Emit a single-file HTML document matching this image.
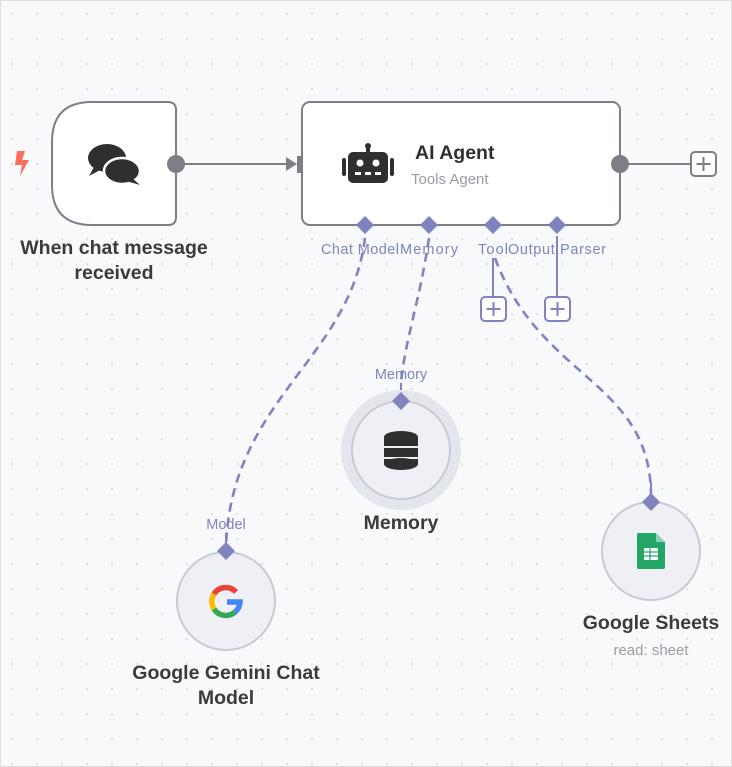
<!DOCTYPE html>
<html><head><meta charset="utf-8"><style>
html,body{margin:0;padding:0;background:#f8f9fb;}
svg{display:block;}
text{font-family:"Liberation Sans","DejaVu Sans",sans-serif;}
</style></head><body>
<svg width="732" height="767" viewBox="0 0 732 767" xmlns="http://www.w3.org/2000/svg">
<defs>
<pattern id="dots" x="0" y="0" width="25" height="25" patternUnits="userSpaceOnUse">
<circle cx="12" cy="14" r="0.9" fill="#c9ccd4"/>
</pattern>
</defs>
<rect width="732" height="767" fill="#f8f9fb"/>
<rect width="732" height="767" fill="url(#dots)"/>
<rect x="0.5" y="0.5" width="731" height="766" fill="none" stroke="#dcdee4"/>

<path d="M17 151 L25 151 L22 160 L29 160 L20 176 L22 165 L15 165 Z" fill="#ff6d5a"/>

<path d="M92 102 L168 102 Q176 102 176 110 L176 217 Q176 225 168 225 L92 225 Q52 225 52 185 L52 142 Q52 102 92 102 Z" fill="#fff" stroke="#7d7f87" stroke-width="2"/>
<g fill="#2f2f2f">
<ellipse cx="107" cy="158" rx="19" ry="14"/>
<path d="M94 167 L89 176 L102 169 Z"/>
<ellipse cx="122" cy="171" rx="18" ry="13" stroke="#fff" stroke-width="2.5"/>
<path d="M132 178 L140 185 L126 181 Z"/>
</g>
<circle cx="176" cy="164" r="9" fill="#7d7f87"/>
<line x1="176" y1="164" x2="290" y2="164" stroke="#7d7f87" stroke-width="2"/>
<path d="M286 157 L297 164 L286 171 Z" fill="#7d7f87"/>
<rect x="297" y="156" width="8" height="17" fill="#7d7f87"/>

<text x="114" y="254" text-anchor="middle" font-size="19.5" font-weight="bold" fill="#3a3a3f">When chat message</text>
<text x="114" y="279" text-anchor="middle" font-size="19.5" font-weight="bold" fill="#3a3a3f">received</text>

<rect x="302" y="102" width="318" height="123" rx="8" fill="#fff" stroke="#7d7f87" stroke-width="2"/>
<g fill="#2f2f2f">
<rect x="366" y="144" width="4" height="8"/>
<circle cx="368" cy="146" r="3"/>
<rect x="348" y="152" width="40" height="31" rx="5"/>
<rect x="342" y="158" width="4" height="18" rx="2"/>
<rect x="390" y="158" width="4" height="18" rx="2"/>
</g>
<circle cx="360" cy="163" r="3.5" fill="#fff"/>
<circle cx="376" cy="163" r="3.5" fill="#fff"/>
<rect x="355" y="172" width="6" height="3" fill="#fff"/>
<rect x="365" y="172" width="6" height="3" fill="#fff"/>
<rect x="375" y="172" width="6" height="3" fill="#fff"/>
<text x="415" y="159" font-size="19.5" font-weight="bold" fill="#2f2f33">AI Agent</text>
<text x="411" y="184" font-size="15" fill="#9a9ca4">Tools Agent</text>
<circle cx="620" cy="164" r="9" fill="#7d7f87"/>
<line x1="620" y1="164" x2="690" y2="164" stroke="#7d7f87" stroke-width="2"/>
<rect x="691" y="152" width="25" height="24" rx="4" fill="#fff" stroke="#7d7f87" stroke-width="2"/>
<path d="M703.5 157 V171 M696.5 164 H710.5" stroke="#7d7f87" stroke-width="2"/>

<g fill="none" stroke="#7f84bf" stroke-width="2.6" stroke-dasharray="9,6">
<path d="M365 238 C350 360 230 400 226 548"/>
<path d="M429 238 C420 300 405 340 401 383"/>
<path d="M495 258 C540 380 650 380 651 495"/>
</g>
<g stroke="#7f84bf" stroke-width="2">
<line x1="493" y1="258" x2="493" y2="297"/>
<line x1="557" y1="236" x2="557" y2="297"/>
<line x1="401" y1="383" x2="401" y2="395"/>
<line x1="226" y1="533" x2="226" y2="545"/>
<line x1="651" y1="482" x2="651" y2="495"/>
</g>
<g fill="#fff" stroke="#7f84bf" stroke-width="2">
<rect x="481" y="297" width="25" height="24" rx="4"/>
<rect x="545" y="297" width="25" height="24" rx="4"/>
</g>
<path d="M493.5 302 V316 M486.5 309 H500.5 M557.5 302 V316 M550.5 309 H564.5" stroke="#7f84bf" stroke-width="2"/>

<g fill="#7f84bf">
<path d="M365 216 L374 225 L365 234 L356 225 Z"/>
<path d="M429 216 L438 225 L429 234 L420 225 Z"/>
<path d="M493 216 L502 225 L493 234 L484 225 Z"/>
<path d="M557 216 L566 225 L557 234 L548 225 Z"/>
</g>
<g font-size="14.5" fill="#7f84bf">
<text x="321" y="254" textLength="78">Chat Model</text>
<text x="400" y="254" textLength="58">Memory</text>
<text x="478" y="254" textLength="30">Tool</text>
<text x="508" y="254" textLength="98">Output Parser</text>
<text x="401" y="379" text-anchor="middle">Memory</text>
<text x="226" y="529" text-anchor="middle">Model</text>
</g>

<circle cx="401" cy="450" r="60" fill="#e4e6ee"/>
<circle cx="401" cy="450" r="49" fill="#eff0f5" stroke="#c8cad4" stroke-width="2"/>
<g fill="#2f2f2f">
<ellipse cx="401" cy="437" rx="17" ry="6"/>
<rect x="384" y="437" width="34" height="9"/>
<rect x="384" y="448" width="34" height="9"/>
<rect x="384" y="459" width="34" height="5"/>
<ellipse cx="401" cy="464" rx="17" ry="6"/>
</g>
<path d="M401 392 L410 401 L401 410 L392 401 Z" fill="#7f84bf"/>
<text x="401" y="529" text-anchor="middle" font-size="19.5" font-weight="bold" fill="#3a3a3f">Memory</text>

<circle cx="226" cy="601" r="49" fill="#eff0f5" stroke="#c8cad4" stroke-width="2"/>
<g fill="none" stroke-width="5.5">
<path d="M236 592 A14 14 0 0 0 214 594" stroke="#ea4335"/>
<path d="M214 594 A14 14 0 0 0 214 609" stroke="#fbbc05"/>
<path d="M214 609 A14 14 0 0 0 235 612" stroke="#34a853"/>
<path d="M235 612 A14 14 0 0 0 240 602 L227 602" stroke="#4285f4"/>
</g>
<path d="M226 542 L235 551 L226 560 L217 551 Z" fill="#7f84bf"/>
<text x="226" y="679" text-anchor="middle" font-size="19.5" font-weight="bold" fill="#3a3a3f">Google Gemini Chat</text>
<text x="226" y="704" text-anchor="middle" font-size="19.5" font-weight="bold" fill="#3a3a3f">Model</text>

<circle cx="651" cy="551" r="49" fill="#eff0f5" stroke="#c8cad4" stroke-width="2"/>
<path d="M641 533 L656 533 L665 542 L665 567 Q665 569 663 569 L639 569 Q637 569 637 567 L637 535 Q637 533 639 533 Z" fill="#23a566"/>
<path d="M656 533 L665 542 L656 542 Z" fill="#8ed1b1"/>
<rect x="644" y="548" width="14" height="12" fill="#fff"/>
<g stroke="#23a566" stroke-width="1.2">
<line x1="644" y1="552" x2="658" y2="552"/>
<line x1="644" y1="556" x2="658" y2="556"/>
<line x1="650" y1="548" x2="650" y2="560"/>
</g>
<path d="M651 493 L660 502 L651 511 L642 502 Z" fill="#7f84bf"/>
<text x="651" y="629" text-anchor="middle" font-size="19.5" font-weight="bold" fill="#3a3a3f">Google Sheets</text>
<text x="651" y="655" text-anchor="middle" font-size="15" fill="#9a9ca4">read: sheet</text>
</svg>
</body></html>
